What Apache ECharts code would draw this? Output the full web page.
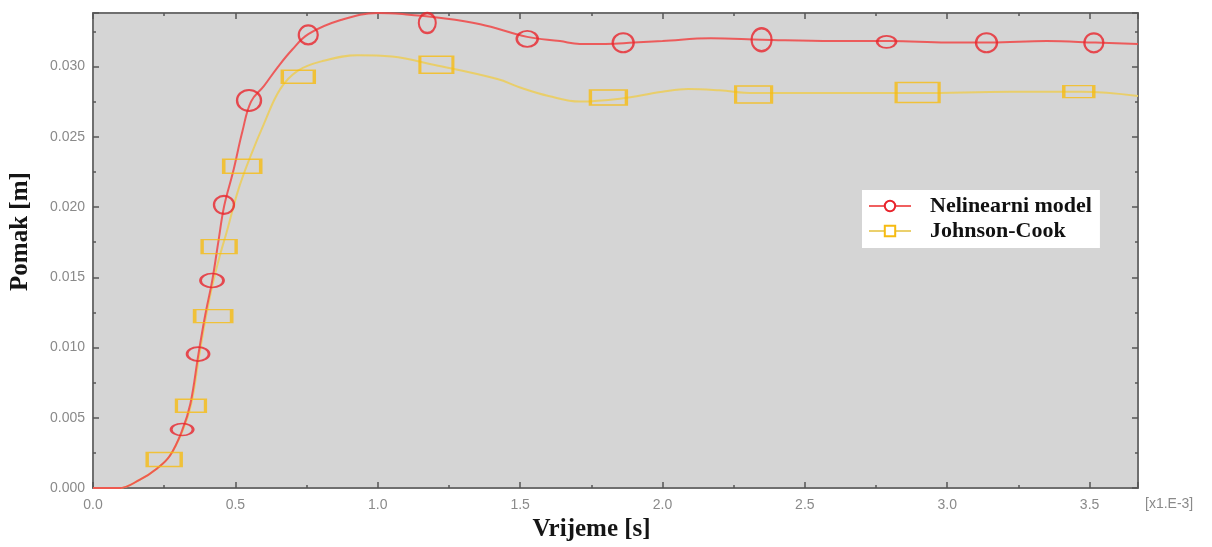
<!DOCTYPE html>
<html>
<head>
<meta charset="utf-8">
<script src="https://cdn.jsdelivr.net/npm/echarts@6/dist/echarts.min.js"></script>
<style>
html,body{margin:0;padding:0;background:#fff;}
#chart{width:1212px;height:547px;}
</style>
</head>
<body>
<div id="chart"></div>
<script>
// Time values in units of 1e-3 s, displacement in m
const redX = [0, 0.09, 0.165, 0.225, 0.27, 0.313, 0.342, 0.37, 0.394, 0.419, 0.44, 0.461, 0.492, 0.525, 0.555, 0.60, 0.647, 0.70, 0.756, 0.87, 1.0, 1.10, 1.20, 1.36, 1.525, 1.64, 1.71, 1.80, 1.90, 2.0, 2.17, 2.35, 2.6, 2.8, 3.0, 3.15, 3.35, 3.52, 3.67];
const redY = [0, 0, 0.0006, 0.0014, 0.0023, 0.0041, 0.0060, 0.0095, 0.0123, 0.0148, 0.0175, 0.0201, 0.0225, 0.0254, 0.0275, 0.0286, 0.0299, 0.0312, 0.0323, 0.0333, 0.0338, 0.0337, 0.0335, 0.0330, 0.0321, 0.0318, 0.0316, 0.0316, 0.0317, 0.0318, 0.0320, 0.0319, 0.0318, 0.0318, 0.0317, 0.0317, 0.0318, 0.0317, 0.0316];

const ycX = [0, 0.09, 0.165, 0.225, 0.27, 0.313, 0.345, 0.372, 0.395, 0.42, 0.445, 0.472, 0.51, 0.553, 0.60, 0.658, 0.72, 0.81, 0.93, 1.05, 1.2, 1.42, 1.5, 1.6, 1.71, 1.85, 2.0, 2.09, 2.2, 2.32, 2.5, 2.7, 2.9, 3.22, 3.47, 3.67];
const ycY = [0, 0, 0.0006, 0.0014, 0.0023, 0.0040, 0.0060, 0.0093, 0.0120, 0.0145, 0.0165, 0.0184, 0.0212, 0.0236, 0.0259, 0.0284, 0.0297, 0.0304, 0.0308, 0.0307, 0.0301, 0.0291, 0.0285, 0.0279, 0.0275, 0.0277, 0.0282, 0.0284, 0.0283, 0.0281, 0.0281, 0.0281, 0.0281, 0.0282, 0.0282, 0.0279];

// marker positions
const redMarkX = [0.313, 0.369, 0.418, 0.460, 0.548, 0.756, 1.174, 1.525, 1.862, 2.348, 2.787, 3.138, 3.515];
const redMarkY = [0.00417, 0.00954, 0.01477, 0.02015, 0.02758, 0.03224, 0.03309, 0.03196, 0.03168, 0.0319, 0.03175, 0.03168, 0.03168];
const ycMarkX = [0.250, 0.344, 0.422, 0.443, 0.524, 0.721, 1.206, 1.810, 2.320, 2.896, 3.462];
const ycMarkY = [0.00204, 0.00586, 0.01223, 0.01718, 0.0229, 0.02927, 0.03012, 0.02779, 0.0280, 0.02814, 0.02821];

// marker drawn sizes (style)
const redMarkSize = [[22,12],[22,14],[23,14],[20,18],[24,21],[19,19],[17,20],[21,16],[21,19],[20,23],[19,12],[21,19],[19,19]];
const ycMarkSize = [[34,14],[29,13],[37,13],[34,14],[37,14],[32,13],[33,17],[36,15],[36,17],[43,20],[30,12]];

const seriesNames = ['Nelinearni model', 'Johnson-Cook'];
const xName = 'Vrijeme [s]';
const yName = 'Pomak [m]';
const xUnitNote = '[x1.E-3]';

const RED = '#e8242c';
const RED_LINE = 'rgba(238,78,78,0.9)';
const YEL = '#f6bb12';
const YEL_LINE = 'rgba(234,206,100,0.95)';

const zip = (a, b) => a.map((v, i) => [v, b[i]]);

const tickLabel = {color: '#8a8a8a', fontSize: 14, fontFamily: 'Liberation Sans'};
const axisLine = {show: true, onZero: false, lineStyle: {color: '#6f6f6f', width: 2}};

function xAx(pos, primary) {
  return {
    type: 'value', position: pos, min: 0, max: 3.67, interval: 0.5,
    axisLine: axisLine,
    axisTick: {show: true, inside: true, length: 6, lineStyle: {color: '#555', width: 1.5}},
    minorTick: {show: true, splitNumber: 2, length: 3, lineStyle: {color: '#555', width: 1.5}},
    splitLine: {show: false}, minorSplitLine: {show: false},
    axisLabel: primary ? Object.assign({show: true, margin: 10, showMaxLabel: false,
      formatter: v => v.toFixed(1)}, tickLabel) : {show: false},
    name: primary ? xName : '',
    nameLocation: 'middle', nameGap: 26,
    nameTextStyle: {fontFamily: 'Liberation Serif', fontWeight: 'bold', fontSize: 25, color: '#151515', padding: [0, 48, 0, 0]}
  };
}
function yAx(pos, primary) {
  return {
    type: 'value', position: pos, min: 0, max: 0.0338, interval: 0.005,
    axisLine: axisLine,
    axisTick: {show: true, inside: true, length: 6, lineStyle: {color: '#555', width: 1.5}},
    minorTick: {show: true, splitNumber: 2, length: 3, lineStyle: {color: '#555', width: 1.5}},
    splitLine: {show: false}, minorSplitLine: {show: false},
    axisLabel: primary ? Object.assign({show: true, margin: 8, showMaxLabel: false,
      formatter: v => v.toFixed(3)}, tickLabel) : {show: false},
    name: primary ? yName : '',
    nameLocation: 'middle', nameGap: 60, nameRotate: 90,
    nameTextStyle: {fontFamily: 'Liberation Serif', fontWeight: 'bold', fontSize: 25, color: '#151515', padding: [0, 0, 0, 38]}
  };
}

const chart = echarts.init(document.getElementById('chart'), null, {renderer: 'canvas'});
chart.setOption({
  animation: false,
  backgroundColor: '#fff',
  grid: {left: 93, top: 13, width: 1045, height: 478, show: true, backgroundColor: '#d5d5d5', borderWidth: 0},
  xAxis: [xAx('bottom', true), xAx('top', false)],
  yAxis: [yAx('left', true), yAx('right', false)],
  legend: {
    data: seriesNames,
    orient: 'vertical', left: 862, top: 190,
    backgroundColor: '#fff', padding: [5, 8, 6, 6],
    itemWidth: 42, itemHeight: 13, itemGap: 3,
    textStyle: {fontFamily: 'Liberation Serif', fontWeight: 'bold', fontSize: 22, color: '#111', padding: [0, 0, 0, 14]}
  },
  graphic: [{
    type: 'text', left: 1145, top: 497,
    style: {text: xUnitNote, fill: '#8a8a8a', fontSize: 14, fontFamily: 'Liberation Sans'}
  }],
  series: [
    {
      name: seriesNames[0], type: 'line', data: zip(redX, redY), smooth: 0.4,
      showSymbol: false, symbol: 'emptyCircle', symbolSize: 10,
      lineStyle: {color: RED_LINE, width: 2}, itemStyle: {color: RED}, z: 3, silent: true
    },
    {
      name: seriesNames[1], type: 'line', data: zip(ycX, ycY), smooth: 0.4,
      showSymbol: false, symbol: 'emptyRect', symbolSize: 10,
      lineStyle: {color: YEL_LINE, width: 2}, itemStyle: {color: YEL}, z: 2, silent: true
    },
    {
      name: 'redMarkers', type: 'scatter', z: 5, silent: true,
      data: redMarkX.map((x, i) => ({value: [x, redMarkY[i]], symbolSize: redMarkSize[i]})),
      symbol: 'circle',
      itemStyle: {color: 'rgba(0,0,0,0)', borderColor: RED, borderWidth: 2.2}
    },
    {
      name: 'ycMarkers', type: 'scatter', z: 4, silent: true,
      data: ycMarkX.map((x, i) => ({value: [x, ycMarkY[i]], symbolSize: ycMarkSize[i]})),
      symbol: 'rect',
      itemStyle: {color: 'rgba(0,0,0,0)', borderColor: YEL, borderWidth: 2.2}
    }
  ]
});
</script>
</body>
</html>
